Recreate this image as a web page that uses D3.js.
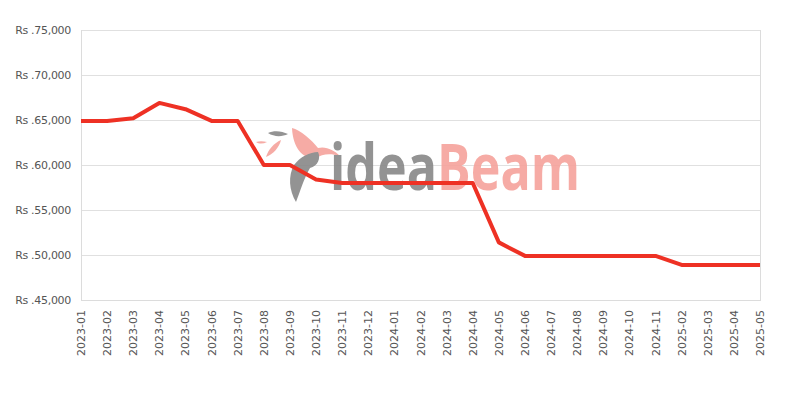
<!DOCTYPE html>
<html><head><meta charset="utf-8">
<script src="https://cdn.jsdelivr.net/npm/d3@7"></script>
<style>body{margin:0;background:#fff;}svg{display:block;font-family:"DejaVu Sans",sans-serif;}</style>
</head><body>
<svg id="c" width="800" height="400"></svg>
<script>
const months = ["2023-01","2023-02","2023-03","2023-04","2023-05","2023-06","2023-07","2023-08","2023-09","2023-10","2023-11","2023-12","2024-01","2024-02","2024-03","2024-04","2024-05","2024-06","2024-07","2024-08","2024-09","2024-10","2024-11","2025-02","2025-03","2025-04","2025-05"];
const prices = [64900,64900,65200,66900,66200,64900,64900,60000,60000,58400,58000,58000,58000,58000,58000,58000,51400,49900,49900,49900,49900,49900,49900,48900,48900,48900,48900];
const yTicks = [45000,50000,55000,60000,65000,70000,75000];

const svg = d3.select("#c");
const m = {l:81, r:760, t:30, b:300};
const x = d3.scalePoint().domain(months).range([m.l, m.r]);
const y = d3.scaleLinear().domain([45000,75000]).range([m.b, m.t]);

// gridlines
svg.append("g").selectAll("line").data(yTicks).join("line")
  .attr("x1", m.l).attr("x2", m.r)
  .attr("y1", d => y(d)+0.5).attr("y2", d => y(d)+0.5)
  .attr("stroke", "#e0e0e0").attr("stroke-width", 1);
svg.append("line").attr("x1", m.l+0.5).attr("x2", m.l+0.5).attr("y1", m.t).attr("y2", m.b)
  .attr("stroke", "#dcdcdc");
svg.append("line").attr("x1", m.r+0.5).attr("x2", m.r+0.5).attr("y1", m.t).attr("y2", m.b)
  .attr("stroke", "#dcdcdc");

// watermark
const defs = svg.append("defs");
const grad = defs.append("linearGradient").attr("id","wmg").attr("gradientUnits","userSpaceOnUse")
  .attr("x1",330).attr("x2",580).attr("y1",0).attr("y2",0);
grad.append("stop").attr("offset","0").attr("stop-color","#888");
grad.append("stop").attr("offset","0.43").attr("stop-color","#888");
grad.append("stop").attr("offset","0.43").attr("stop-color","#f6a39c");
grad.append("stop").attr("offset","1").attr("stop-color","#f6a39c");

const wm = svg.append("g").attr("opacity", 0.9);
const bird = wm.append("g");
bird.append("path").attr("d","M292,128 C300,130 312,140 318,148 C326,146 334,150 340,156 C330,153 322,154 316,158 C305,160 293,150 292,128 Z").attr("fill","#f6a39c");
bird.append("path").attr("d","M268,133 C274,130 282,131 288,134 C282,137 274,137 268,133 Z").attr("fill","#888");
bird.append("path").attr("d","M256,142 C259,141 263,141 267,142 C263,144 259,144 256,142 Z").attr("fill","#f6a39c");
bird.append("path").attr("d","M266,157 C268,150 274,143 281,140 C279,148 273,154 266,157 Z").attr("fill","#f6a39c");
bird.append("path").attr("d","M296,202 C289,190 288,176 294,165 C300,157 310,152 318,152 C321,158 318,166 310,168 C304,178 300,192 296,202 Z").attr("fill","#888");
wm.append("text").attr("x", 330).attr("y", 190).attr("font-size", 64).attr("font-weight","bold")
  .attr("font-family","'Open Sans',sans-serif").attr("fill","url(#wmg)")
  .attr("textLength", 250).attr("lengthAdjust","spacingAndGlyphs").text("ideaBeam");

// bottom axis line
svg.append("line").attr("x1", m.l).attr("x2", m.r+1).attr("y1", m.b+0.5).attr("y2", m.b+0.5)
  .attr("stroke", "#dcdcdc");

// y labels
svg.append("g").selectAll("text").data(yTicks).join("text")
  .attr("x", 71).attr("y", d => y(d)).attr("dy","0.35em")
  .attr("text-anchor","end").attr("font-size", 11).attr("fill","#555")
  .attr("letter-spacing", -0.3)
  .text(d => "Rs ." + d3.format(",")(d));

// x labels
svg.append("g").selectAll("text").data(months).join("text")
  .attr("transform", d => `translate(${x(d)+4},310) rotate(-90)`)
  .attr("text-anchor","end").attr("font-size", 11).attr("fill","#555")
  .text(d => d);

// line
const line = d3.line().x((d,i) => x(months[i])).y(d => y(d));
svg.append("path").datum(prices).attr("d", line)
  .attr("fill","none").attr("stroke","#ee3124").attr("stroke-width", 4)
  .attr("stroke-linejoin","round");
</script>
</body></html>
